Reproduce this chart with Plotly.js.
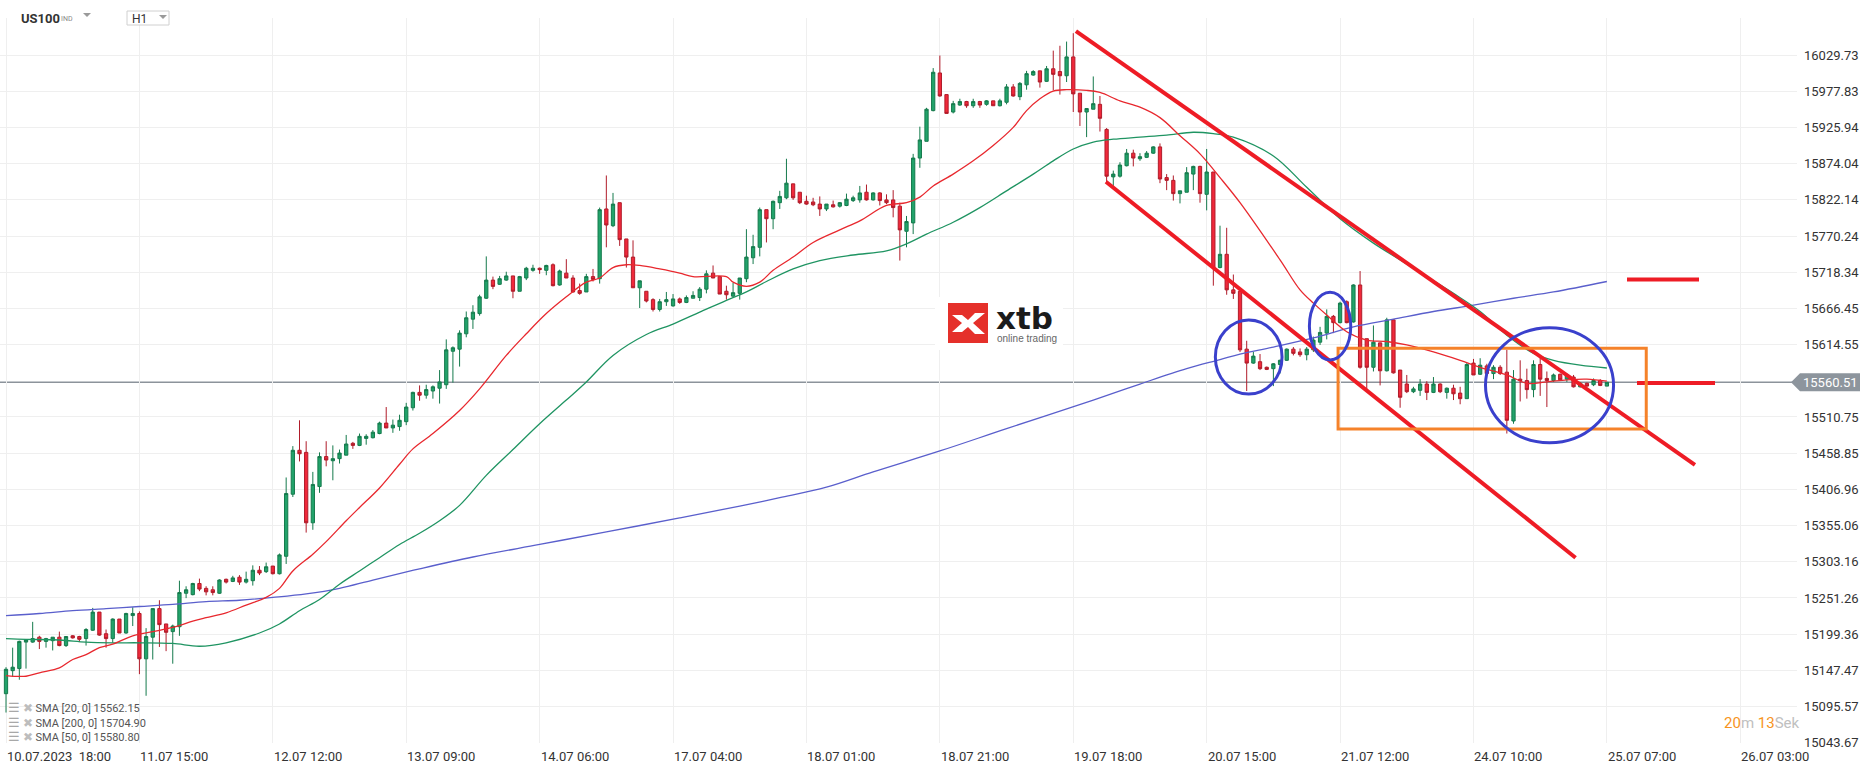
<!DOCTYPE html>
<html>
<head>
<meta charset="utf-8">
<script src="https://cdn.plot.ly/plotly-3.0.1.min.js"></script>
<style>
html,body{margin:0;padding:0;background:#fff;}
#chart{width:1866px;height:767px;}
</style>
</head>
<body>
<div id="chart"></div>
<script>
// ---------- DATA ----------
const openP = [15114,15147,15150,15188,15188,15195,15189,15190,15195,15183,15197,15196,15193,15205,15231,15200,15193,15221,15201,15226,
15229,15164,15195,15236,15214,15203,15210,15258,15256,15272,15265,15263,15258,15278,15275,15281,15274,15276,15291,15289,
15297,15286,15311,15400,15463,15460,15359,15411,15454,15448,15451,15456,15473,15470,15480,15481,15487,15502,15495,15497,
15504,15524,15546,15542,15548,15552,15557,15605,15608,15630,15651,15659,15681,15707,15701,15707,15713,15691,15710,15721,
15724,15721,15729,15700,15717,15710,15692,15690,15712,15709,15809,15785,15818,15766,15740,15696,15691,15679,15665,15676,
15670,15680,15675,15681,15682,15694,15717,15712,15691,15684,15688,15709,15739,15754,15808,15795,15818,15825,15845,15833,
15820,15819,15816,15809,15815,15813,15814,15821,15822,15833,15822,15832,15822,15822,15813,15777,15789,15882,15906,15950,
16004,15973,15948,15958,15963,15957,15963,15959,15964,15957,15962,15984,15970,15987,16001,16007,15992,16010,16006,16000,
16027,15975,15948,15952,15959,15923,15855,15856,15871,15889,15881,15883,15889,15898,15854,15850,15831,15833,15859,15870,
15830,15862,15725,15744,15693,15691,15608,15588,15590,15582,15580,15586,15592,15608,15604,15600,15607,15618,15631,15655,
15646,15676,15647,15700,15623,15582,15617,15577,15650,15578,15558,15547,15549,15558,15546,15558,15546,15552,15545,15537,
15588,15572,15584,15573,15582,15575,15505,15565,15563,15550,15586,15566,15563,15572,15565,15568,15554,15559,15557,15563,
15555];
const highP = [15152,15180,15190,15192,15217,15197,15194,15195,15203,15196,15198,15197,15208,15237,15231,15206,15222,15221,15230,15238,
15232,15208,15236,15248,15214,15213,15276,15268,15273,15279,15268,15268,15278,15279,15283,15284,15289,15298,15297,15302,
15297,15315,15424,15469,15506,15476,15432,15460,15476,15470,15464,15485,15475,15487,15486,15492,15504,15525,15507,15514,
15531,15547,15556,15557,15556,15578,15622,15612,15635,15662,15671,15686,15741,15712,15713,15719,15713,15713,15726,15729,
15725,15729,15731,15722,15737,15714,15702,15716,15723,15811,15857,15832,15818,15766,15764,15706,15691,15681,15680,15690,
15687,15682,15685,15691,15697,15721,15728,15712,15699,15703,15710,15780,15772,15811,15808,15821,15835,15881,15845,15833,
15828,15825,15827,15816,15821,15819,15831,15828,15842,15844,15833,15833,15830,15836,15818,15799,15888,15927,15954,16011,
16029,15973,15964,15967,15964,15967,15964,15965,15964,15967,15988,15988,15991,16007,16008,16007,16014,16036,16043,16049,
16061,15975,15953,15999,15971,15925,15864,15876,15895,15894,15889,15892,15899,15903,15859,15857,15835,15869,15871,15871,
15895,15862,15785,15782,15715,15691,15620,15604,15601,15583,15588,15593,15609,15611,15609,15611,15626,15640,15665,15657,
15676,15678,15701,15720,15623,15642,15617,15653,15651,15578,15571,15554,15565,15562,15568,15559,15553,15557,15554,15588,
15594,15595,15587,15585,15585,15607,15578,15592,15580,15592,15597,15576,15573,15573,15573,15571,15561,15560,15566,15565,
15561];
const lowP = [15087,15138,15134,15150,15187,15178,15180,15176,15182,15181,15193,15188,15183,15204,15197,15180,15187,15201,15200,15211,
15142,15111,15163,15181,15175,15157,15197,15251,15255,15261,15255,15255,15257,15272,15274,15270,15272,15269,15284,15287,
15285,15285,15300,15396,15447,15345,15349,15402,15440,15420,15444,15456,15465,15469,15471,15480,15486,15495,15488,15491,
15499,15520,15534,15537,15537,15530,15551,15560,15583,15625,15637,15656,15680,15694,15700,15706,15681,15691,15707,15719,
15716,15714,15698,15699,15710,15689,15686,15690,15705,15702,15754,15783,15756,15725,15696,15667,15675,15662,15662,15670,
15669,15673,15674,15681,15677,15688,15710,15687,15679,15682,15679,15704,15730,15741,15761,15780,15809,15823,15822,15816,
15815,15813,15799,15806,15811,15811,15813,15819,15818,15821,15821,15814,15816,15797,15735,15754,15773,15868,15906,15949,
15970,15946,15946,15957,15954,15954,15954,15957,15957,15956,15959,15970,15965,15980,16000,15983,15991,15979,15973,15991,
15948,15928,15912,15952,15920,15845,15842,15854,15870,15870,15878,15882,15888,15846,15836,15821,15817,15833,15836,15818,
15807,15699,15724,15686,15680,15604,15548,15587,15578,15578,15555,15573,15591,15599,15597,15592,15604,15614,15622,15631,
15645,15645,15646,15580,15550,15576,15556,15576,15573,15524,15545,15545,15541,15535,15545,15545,15537,15535,15529,15537,
15571,15571,15571,15565,15571,15487,15501,15533,15537,15539,15541,15525,15561,15563,15561,15553,15553,15554,15555,15555,
15555];
const closeP = [15149,15152,15189,15191,15193,15189,15193,15195,15183,15196,15194,15192,15206,15231,15198,15193,15221,15201,15229,15229,
15164,15196,15236,15213,15202,15211,15259,15263,15272,15264,15260,15259,15277,15274,15280,15274,15278,15291,15287,15296,
15286,15313,15401,15463,15458,15359,15414,15454,15449,15451,15459,15472,15470,15483,15483,15489,15502,15495,15499,15506,
15525,15546,15542,15550,15554,15561,15607,15610,15631,15653,15661,15683,15707,15698,15709,15713,15691,15712,15724,15724,
15722,15728,15699,15720,15710,15690,15688,15712,15708,15808,15786,15816,15765,15740,15696,15706,15677,15665,15676,15679,
15680,15675,15682,15685,15694,15716,15710,15687,15686,15689,15710,15740,15755,15808,15795,15820,15827,15846,15825,15818,
15816,15815,15809,15816,15812,15818,15823,15825,15832,15822,15832,15821,15818,15811,15779,15791,15882,15908,15952,16005,
15971,15946,15960,15963,15957,15963,15958,15964,15957,15964,15984,15971,15989,16003,16006,15991,16010,16002,16000,16027,
15974,15948,15953,15960,15939,15856,15859,15872,15889,15882,15884,15889,15898,15852,15850,15831,15835,15861,15870,15831,
15862,15725,15744,15693,15688,15607,15588,15598,15580,15579,15587,15592,15608,15602,15600,15608,15621,15632,15655,15646,
15674,15646,15700,15582,15582,15618,15577,15650,15574,15539,15547,15551,15558,15546,15558,15547,15552,15544,15537,15586,
15571,15585,15573,15582,15573,15506,15565,15563,15550,15586,15565,15563,15571,15564,15571,15554,15559,15555,15563,15556,
15560.51];

// moving averages, read at sample candles
const sma20Idx = [0,3,5,8,10,12,14,16,19,22,25,28,30,33,36,39,41,43,46,48,51,53,56,59,61,64,68,71,75,78,81,84,87,89,91,93,95,98,101,103,108,109,111,113,115,118,121,125,128,132,135,137,139,142,145,148,151,153,155,157,159,162,164,167,170,173,176,179,182,185,191,194,196,198,201,204,207,210,214,218,221,225,228,231,234,237,240];
const sma20Val = [15140,15139,15144,15151,15163,15170,15180,15185,15197,15203,15209,15218,15223,15230,15241,15252,15265,15290,15314,15332,15362,15381,15409,15443,15465,15487,15520,15551,15599,15630,15659,15683,15704,15710,15725,15729,15728,15723,15717,15712,15712,15704,15698,15704,15721,15740,15761,15779,15792,15814,15818,15826,15842,15859,15878,15900,15926,15950,15967,15978,15980,15979,15976,15964,15955,15940,15914,15888,15854,15818,15736,15693,15674,15657,15633,15621,15619,15614,15604,15592,15582,15571,15559,15561,15564,15565,15562];
const sma50Idx = [0,3,8,12,16,20,25,29,33,38,41,44,47,50,53,56,59,62,65,68,72,76,80,84,87,91,96,100,104,108,111,114,118,122,127,132,135,138,142,146,150,154,157,160,163,166,170,174,178,181,184,190,195,200,205,209,213,217,221,225,229,232,236,240];
const sma50Val = [15193,15192,15191,15188,15187,15187,15186,15182,15187,15201,15214,15233,15249,15271,15290,15309,15328,15344,15362,15384,15427,15464,15501,15535,15561,15599,15629,15644,15661,15678,15690,15705,15723,15735,15743,15749,15759,15773,15790,15811,15835,15859,15878,15895,15905,15909,15912,15915,15919,15917,15912,15885,15840,15795,15760,15736,15712,15688,15662,15628,15602,15592,15585,15581];
const sma200Idx = [0,5,10,15,20,25,30,35,40,45,50,55,62,70,80,90,101,110,116,123,130,140,150,163,170,177,182,185,190,196,202,208,214,220,226,232,240];
const sma200Val = [15226,15229,15233,15236,15239,15242,15246,15248,15252,15257,15265,15277,15293,15310,15328,15346,15366,15383,15395,15410,15432,15462,15494,15535,15558,15580,15593,15601,15611,15624,15640,15651,15662,15671,15681,15690,15705];

const priceTicks = [16029.73,15977.83,15925.94,15874.04,15822.14,15770.24,15718.34,15666.45,15614.55,15510.75,15458.85,15406.96,15355.06,15303.16,15251.26,15199.36,15147.47,15095.57,15043.67];
const timeTickIdx = [0,20,40,60,80,100,120,140,160,180,200,220,240,260];
const timeTickText = ["10.07.2023  18:00","11.07 15:00","12.07 12:00","13.07 09:00","14.07 06:00","17.07 04:00","18.07 01:00","18.07 21:00","19.07 18:00","20.07 15:00","21.07 12:00","24.07 10:00","25.07 07:00","26.07 03:00"];
const lastPrice = 15560.51;
const legendRows = ["SMA [20, 0] 15562.15","SMA [200, 0] 15704.90","SMA [50, 0] 15580.80"];

// ---------- geometry helpers (layout only) ----------
const W = 1866, H = 767;
const PL = 0, PR = 1797, PT = 18, PB = 743;
const XR = [-0.9, 268.5], YR = [15043.3, 16082.8];
const X = px => XR[0] + (px - PL) / (PR - PL) * (XR[1] - XR[0]);
const Y = py => YR[1] - (py - PT) / (PB - PT) * (YR[1] - YR[0]);
const PX = px => (px - PL) / (PR - PL);
const PY = py => (PB - py) / (PB - PT);

const idx = openP.map((_, i) => i);
const FONT = 'Roboto, "Open Sans", sans-serif';

const traces = [
  {type:'scatter', mode:'lines', x:sma200Idx, y:sma200Val, line:{color:'#5a5fcc', width:1.3, shape:'spline'}, hoverinfo:'skip'},
  {type:'scatter', mode:'lines', x:sma50Idx, y:sma50Val, line:{color:'#1f9462', width:1.3, shape:'spline'}, hoverinfo:'skip'},
  {type:'scatter', mode:'lines', x:sma20Idx, y:sma20Val, line:{color:'#e8282e', width:1.3, shape:'spline'}, hoverinfo:'skip'},
  {type:'candlestick', x:idx, open:openP, high:highP, low:lowP, close:closeP,
   increasing:{line:{color:'#157a4c', width:1}, fillcolor:'#22a36b'},
   decreasing:{line:{color:'#b01c2a', width:1}, fillcolor:'#f0293b'},
   whiskerwidth:0, hoverinfo:'skip'}
];

const shapes = [
  // last price line
  {type:'line', xref:'paper', x0:0, x1:1, yref:'y', y0:lastPrice, y1:lastPrice, line:{color:'#8c939b', width:1.5}, layer:'below'},
  // price tag
  {type:'path', xref:'paper', xsizemode:'pixel', xanchor:1, yref:'y', ysizemode:'pixel', yanchor:lastPrice,
   path:'M -6 0 L 3 9 L 63 9 L 63 -9 L 3 -9 Z', fillcolor:'#8d959d', line:{width:0}},
  // trend lines
  {type:'line', x0:160.4, y0:16064, x1:253.2, y1:15442, line:{color:'#ee1c25', width:4}},
  {type:'line', x0:164.9, y0:15848, x1:235.3, y1:15309, line:{color:'#ee1c25', width:4}},
  {type:'line', x0:X(1627), x1:X(1699), y0:15708, y1:15708, line:{color:'#ee1c25', width:4}},
  {type:'line', x0:X(1637), x1:X(1715), y0:15559.5, y1:15559.5, line:{color:'#ee1c25', width:4}},
  // orange box
  {type:'rect', x0:199.7, x1:245.9, y0:15493.5, y1:15609.2, line:{color:'#f5822a', width:3}},
  // blue ellipses
  {type:'circle', x0:181.3, x1:191.3, y0:15543.7, y1:15649.8, line:{color:'#3a40cc', width:3}},
  {type:'circle', x0:195.4, x1:201.6, y0:15592.5, y1:15689.5, line:{color:'#3a40cc', width:3}},
  {type:'circle', x0:221.8, x1:241.0, y0:15473.9, y1:15638.8, line:{color:'#3a40cc', width:3}},
  // xtb logo
  {type:'rect', x0:X(935), x1:X(1063), y0:Y(350), y1:Y(297), fillcolor:'#ffffff', line:{width:0}, layer:'above'},
  {type:'rect', x0:X(948), x1:X(988), y0:Y(343), y1:Y(303), fillcolor:'#e5302a', line:{width:0}, layer:'above'},
  {type:'path', layer:'above', fillcolor:'#ffffff', line:{width:0},
   path:'M '+X(952)+' '+Y(315)+' L '+X(962)+' '+Y(315)+' L '+X(968)+' '+Y(320)+' L '+X(975)+' '+Y(313)+' L '+X(985)+' '+Y(313)+
        ' L '+X(973)+' '+Y(323)+' L '+X(985)+' '+Y(334)+' L '+X(975)+' '+Y(334)+' L '+X(968)+' '+Y(327)+' L '+X(962)+' '+Y(332)+
        ' L '+X(952)+' '+Y(332)+' L '+X(962)+' '+Y(323)+' Z'},
  // H1 box
  {type:'rect', xref:'paper', yref:'paper', x0:PX(127), x1:PX(169), y0:PY(25), y1:PY(11), fillcolor:'#ffffff', line:{color:'#d0d0d0', width:1}, layer:'above'},
  // header triangles
  {type:'path', xref:'paper', yref:'paper', path:'M '+PX(83)+' '+PY(13)+' L '+PX(91)+' '+PY(13)+' L '+PX(87)+' '+PY(17)+' Z', fillcolor:'#9a9a9a', line:{width:0}, layer:'above'},
  {type:'path', xref:'paper', yref:'paper', path:'M '+PX(159)+' '+PY(15)+' L '+PX(167)+' '+PY(15)+' L '+PX(163)+' '+PY(19)+' Z', fillcolor:'#9a9a9a', line:{width:0}, layer:'above'}
];

const annotations = [];
timeTickIdx.forEach((v, k) => {
  annotations.push({xref:'x', yref:'paper', x:v, y:0, yshift:-13, xanchor:'left', yanchor:'middle', xshift:-1,
    text:timeTickText[k], showarrow:false, font:{family:FONT, size:13, color:'#333'}});
});
annotations.push({xref:'paper', yref:'y', x:1, y:lastPrice, xanchor:'left', yanchor:'middle', xshift:4,
  text:lastPrice.toFixed(2), showarrow:false, font:{family:FONT, size:13, color:'#ffffff'}});
legendRows.forEach((t, k) => {
  annotations.push({xref:'paper', yref:'paper', x:PX(6), y:PY([707,722,736][k]), xanchor:'left', yanchor:'middle',
    text:'<span style="color:#a8a8a8;font-size:13px">☰</span> <span style="color:#bdbdbd;font-size:12px">✖</span> ' + t, showarrow:false, font:{family:FONT, size:11, color:'#555'}});
});
annotations.push({xref:'paper', yref:'paper', x:PX(1722), y:PY(723), xanchor:'left', yanchor:'middle', showarrow:false,
  text:'<span style="color:#f7941d">20</span><span style="color:#c0c0c0">m </span><span style="color:#f7941d">13</span><span style="color:#c0c0c0">Sek</span>',
  font:{family:FONT, size:15}});
// header
annotations.push({xref:'paper', yref:'paper', x:PX(19), y:PY(18), xanchor:'left', yanchor:'middle', showarrow:false,
  text:'<b>US100</b>', font:{family:FONT, size:13, color:'#333'}});
annotations.push({xref:'paper', yref:'paper', x:PX(59), y:PY(19), xanchor:'left', yanchor:'middle', showarrow:false,
  text:'IND', font:{family:FONT, size:7, color:'#888'}});
annotations.push({xref:'paper', yref:'paper', x:PX(130), y:PY(19), xanchor:'left', yanchor:'middle', showarrow:false,
  text:'H1', font:{family:FONT, size:12, color:'#333'}});
// logo text
annotations.push({xref:'x', yref:'y', x:X(994), y:Y(318), xanchor:'left', yanchor:'middle', showarrow:false,
  text:'<b>xtb</b>', font:{family:'DejaVu Sans', size:31, color:'#1b1b1b'}});
annotations.push({xref:'x', yref:'y', x:X(995), y:Y(338), xanchor:'left', yanchor:'middle', showarrow:false,
  text:'online trading', font:{family:'Liberation Sans, Arial', size:10, color:'#666'}});

const layout = {
  width:W, height:H,
  margin:{l:PL, r:W-PR, t:PT, b:H-PB, pad:0},
  paper_bgcolor:'#ffffff', plot_bgcolor:'#ffffff',
  showlegend:false,
  xaxis:{range:XR, tickvals:timeTickIdx, showticklabels:false, showgrid:true, gridcolor:'#efefef', gridwidth:1,
         zeroline:false, showline:false, ticks:'', rangeslider:{visible:false}, fixedrange:true},
  yaxis:{range:YR, side:'right', tickvals:priceTicks, ticktext:priceTicks.map(v=>v.toFixed(2)),
         showgrid:true, gridcolor:'#efefef', gridwidth:1, zeroline:false, showline:false, ticks:'',
         ticklabelstandoff:6, tickfont:{family:FONT, size:13, color:'#333'}, fixedrange:true},
  shapes:shapes,
  annotations:annotations,
  font:{family:FONT}
};

Plotly.newPlot('chart', traces, layout, {staticPlot:true, displayModeBar:false});
</script>
</body>
</html>
